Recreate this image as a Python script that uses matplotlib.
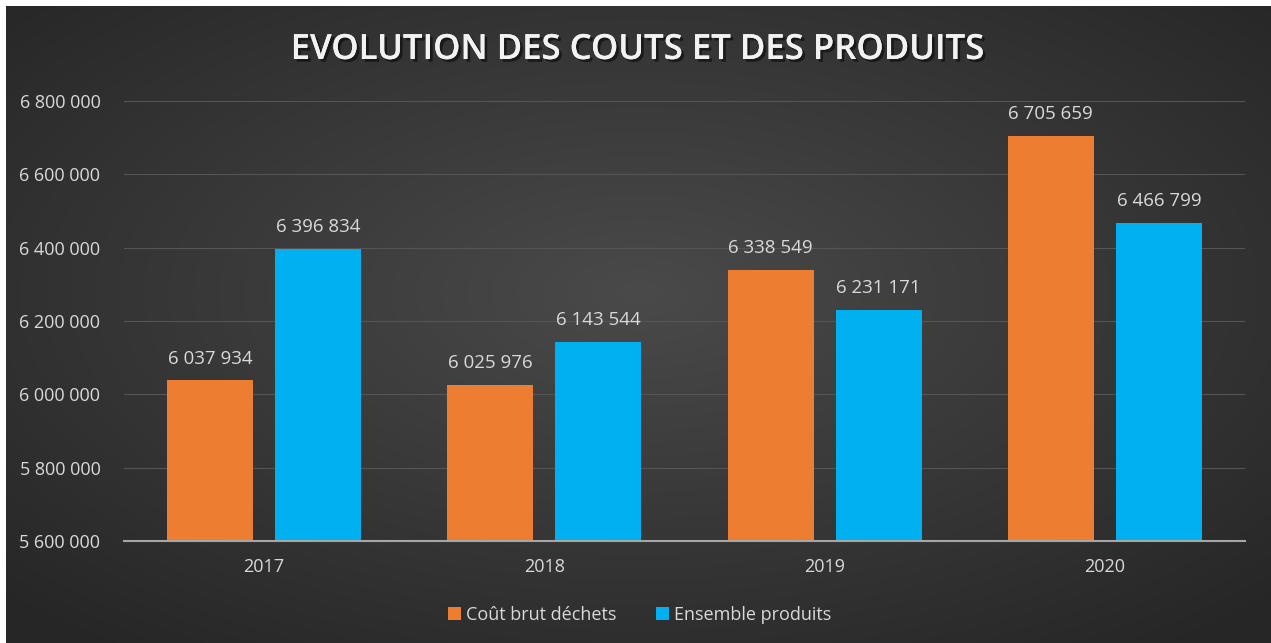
import numpy as np
import matplotlib
matplotlib.use("Agg")
import matplotlib.pyplot as plt
import matplotlib.patheffects as pe
from matplotlib.ticker import FuncFormatter

years = ["2017", "2018", "2019", "2020"]
cout_brut = [6037934, 6025976, 6338549, 6705659]
ensemble = [6396834, 6143544, 6231171, 6466799]
series_names = ["Coût brut déchets", "Ensemble produits"]

orange = "#ED7D31"
blue = "#00B0F0"
txt = "#D9D9D9"

plt.rcParams['font.family'] = ['Open Sans', 'DejaVu Sans']

fig = plt.figure(figsize=(12.71, 6.43), dpi=100)
fig.patch.set_facecolor("white")

# radial gradient background
bg = fig.add_axes([6 / 1271, 0, 1 - 6 / 1271, 1 - 6 / 643])
ny, nx = 300, 600
yy, xx = np.mgrid[0:ny, 0:nx]
r = np.sqrt(((xx - nx / 2) / (nx / 2)) ** 2 + ((yy - ny * 0.45) / (ny / 2)) ** 2)
shade = 0.29 - 0.14 * np.clip(r / 1.4, 0, 1)
bg.imshow(np.dstack([shade] * 3), aspect="auto", extent=[0, 1, 0, 1])
bg.set_axis_off()

ax = fig.add_axes([124 / 1271, 1 - 541 / 643, (1245 - 124) / 1271, (541 - 101) / 643])
ax.set_facecolor("none")

x = np.arange(len(years))
w = 0.307
off = 0.193
b1 = ax.bar(x - off, cout_brut, w, color=orange, label=series_names[0], zorder=3)
b2 = ax.bar(x + off, ensemble, w, color=blue, label=series_names[1], zorder=3)

fmt = lambda v: f"{int(v):,}".replace(",", " ")
for bars, vals in ((b1, cout_brut), (b2, ensemble)):
    for rect, v in zip(bars, vals):
        ax.text(rect.get_x() + rect.get_width() / 2, v + 35000, fmt(v),
                ha="center", va="bottom", color=txt, fontsize=13.5)

ax.set_xlim(-0.5, 3.5)
ax.set_ylim(5600000, 6800000)
ax.set_yticks(np.arange(5600000, 6800001, 200000))
ax.yaxis.set_major_formatter(FuncFormatter(lambda v, p: fmt(v)))
ax.set_xticks(x)
ax.set_xticklabels(years)
ax.tick_params(axis="both", length=0, colors=txt, labelsize=13)
ax.tick_params(axis="x", pad=12)
ax.tick_params(axis="y", pad=17)
ax.grid(axis="y", color="#555555", linewidth=0.8, zorder=0)
for s in ("top", "right", "left"):
    ax.spines[s].set_visible(False)
ax.spines["bottom"].set_color("#A6A6A6")
ax.spines["bottom"].set_linewidth(1.5)
ax.spines["bottom"].set_zorder(4)

fig.text(637 / 1271, 1 - 50 / 643, "EVOLUTION DES COUTS ET DES PRODUITS",
         ha="center", va="center", color="#F2F2F2", fontsize=25, fontweight="semibold",
         path_effects=[pe.withSimplePatchShadow(offset=(2, -2), shadow_rgbFace="black", alpha=0.5),
                       pe.Normal()])

leg = fig.legend(handles=[b1, b2], loc="center", bbox_to_anchor=(640 / 1271, 1 - 615 / 643),
                 ncol=2, frameon=False, fontsize=13, labelcolor=txt,
                 handlelength=0.7, handleheight=0.7, handletextpad=0.3, columnspacing=2.2)

fig.savefig("out.png", dpi=100, facecolor=fig.get_facecolor())
